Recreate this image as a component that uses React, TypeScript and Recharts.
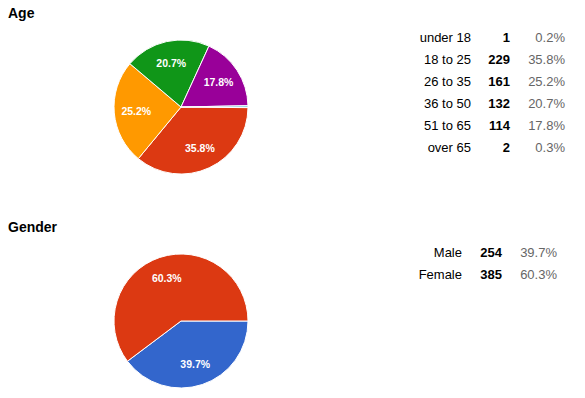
import { PieChart, Pie, Cell } from "recharts";

const ageCategories = ["under 18", "18 to 25", "26 to 35", "36 to 50", "51 to 65", "over 65"];
const ageCounts = [1, 229, 161, 132, 114, 2];
const agePercents = ["0.2%", "35.8%", "25.2%", "20.7%", "17.8%", "0.3%"];

const genderCategories = ["Male", "Female"];
const genderCounts = [254, 385];
const genderPercents = ["39.7%", "60.3%"];

const AGE_COLORS = ["#3366cc", "#dc3912", "#ff9900", "#109618", "#990099", "#0099c6"];
const GENDER_COLORS = ["#3366cc", "#dc3912"];

const FONT = "'Liberation Sans', Arial, sans-serif";
const RAD = Math.PI / 180;

const ageData = ageCategories.map((name, i) => ({
	name,
	value: ageCounts[i],
	pct: agePercents[i],
}));
const genderData = genderCategories.map((name, i) => ({
	name,
	value: genderCounts[i],
	pct: genderPercents[i],
}));

function sliceLabel(props: any) {
	const { cx, cy, midAngle, outerRadius, percent, payload } = props;
	if (percent < 0.05) return null;
	const r = outerRadius * 0.67;
	const x = cx + r * Math.cos(-midAngle * RAD);
	const y = cy + r * Math.sin(-midAngle * RAD);
	return (
		<text
			x={x}
			y={y}
			fill="#ffffff"
			fontSize={10.5}
			fontWeight="bold"
			fontFamily={FONT}
			textAnchor="middle"
			dominantBaseline="central"
		>
			{payload.pct}
		</text>
	);
}

function Table({
	labels,
	counts,
	percents,
	top,
	labelRight,
	countRight,
	pctRight,
}: {
	labels: string[];
	counts: number[];
	percents: string[];
	top: number;
	labelRight: number;
	countRight: number;
	pctRight: number;
}) {
	const rowH = 22;
	const cell = (right: number, y: number, extra: any) => ({
		position: "absolute" as const,
		left: right - 100,
		width: 100,
		top: y,
		height: rowH,
		lineHeight: `${rowH}px`,
		textAlign: "right" as const,
		fontSize: 13,
		fontFamily: FONT,
		...extra,
	});
	return (
		<>
			{labels.map((l, i) => (
				<div key={"l" + i}>
					<div style={cell(labelRight, top + i * rowH, { color: "#000" })}>{l}</div>
					<div style={cell(countRight, top + i * rowH, { color: "#000", fontWeight: "bold" })}>
						{counts[i]}
					</div>
					<div style={cell(pctRight, top + i * rowH, { color: "#666" })}>{percents[i]}</div>
				</div>
			))}
		</>
	);
}

export default function App() {
	return (
		<div
			style={{
				position: "absolute",
				left: 0,
				top: 0,
				width: 585,
				height: 398,
				background: "#fff",
				overflow: "hidden",
			}}
		>
			<div
				style={{
					position: "absolute",
					left: 8,
					top: 4,
					fontSize: 14,
					fontWeight: "bold",
					fontFamily: FONT,
					lineHeight: "18px",
				}}
			>
				Age
			</div>
			<div
				style={{
					position: "absolute",
					left: 8,
					top: 218,
					fontSize: 14,
					fontWeight: "bold",
					fontFamily: FONT,
					lineHeight: "18px",
				}}
			>
				Gender
			</div>
			<div style={{ position: "absolute", left: 0, top: 0 }}>
				<PieChart width={585} height={398} margin={{ top: 0, right: 0, bottom: 0, left: 0 }}>
					<Pie
						data={ageData}
						dataKey="value"
						nameKey="name"
						cx={181}
						cy={107}
						outerRadius={67}
						startAngle={0}
						endAngle={-360}
						stroke="#ffffff"
						strokeWidth={1}
						label={sliceLabel}
						labelLine={false}
						isAnimationActive={false}
					>
						{ageData.map((_, i) => (
							<Cell key={i} fill={AGE_COLORS[i]} />
						))}
					</Pie>
					<Pie
						data={genderData}
						dataKey="value"
						nameKey="name"
						cx={181}
						cy={321}
						outerRadius={67}
						startAngle={0}
						endAngle={-360}
						stroke="#ffffff"
						strokeWidth={1}
						label={sliceLabel}
						labelLine={false}
						isAnimationActive={false}
					>
						{genderData.map((_, i) => (
							<Cell key={i} fill={GENDER_COLORS[i]} />
						))}
					</Pie>
				</PieChart>
			</div>
			<Table
				labels={ageCategories}
				counts={ageCounts}
				percents={agePercents}
				top={27}
				labelRight={471}
				countRight={510}
				pctRight={565}
			/>
			<Table
				labels={genderCategories}
				counts={genderCounts}
				percents={genderPercents}
				top={242}
				labelRight={462}
				countRight={502}
				pctRight={557}
			/>
		</div>
	);
}
